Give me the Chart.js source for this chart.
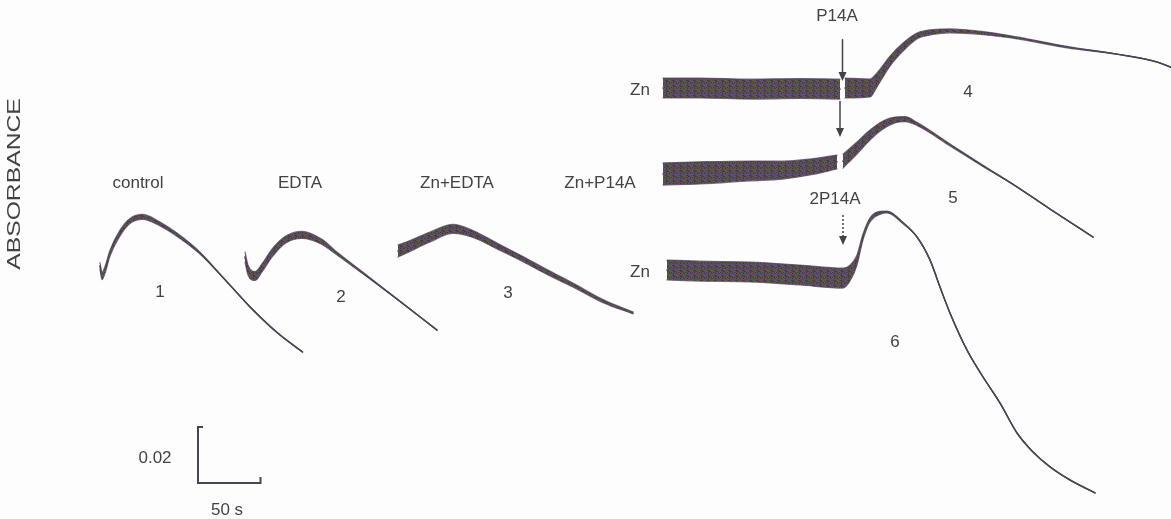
<!DOCTYPE html>
<html><head><meta charset="utf-8">
<script src="https://cdn.jsdelivr.net/npm/chart.js@4"></script>
<style>html,body{margin:0;padding:0;background:#fdfdfd;}#wrap{width:1171px;height:519px;position:relative;}</style>
</head><body><div id="wrap"><canvas id="c" width="1171" height="519"></canvas></div>
<script>
// ---- data: time (s) from start of each record, absorbance change, noise envelope (full width) ----
const trace1Time = [0,1.6,4,8,16,24,34,48,64,80,98,120,142,162];
const trace1Abs = [0,-0.0036,-0.0014,0.0046,0.0118,0.0161,0.0175,0.0150,0.0104,0.0046,-0.0039,-0.0146,-0.0239,-0.0307];
const trace1Noise = [0.0025,0.0025,0.0025,0.0021,0.0021,0.0018,0.0018,0.0014,0.0011,0.0007,0,0,0,0];

const trace2Time = [0,2.4,8,13.6,21.6,32,45.6,61.6,72,98.4,125.6,153.6];
const trace2Abs = [0,-0.0046,-0.0068,-0.0039,0.0014,0.0061,0.0079,0.0054,0.0018,-0.0071,-0.0164,-0.0261];
const trace2Noise = [0.0036,0.0036,0.0032,0.0029,0.0029,0.0025,0.0025,0.0018,0.0011,0.0005,0,0];

const trace3Time = [0,9.6,25.6,44,60,79.2,100,119.2,143.2,164,188];
const trace3Abs = [0,0.0018,0.0050,0.0079,0.0061,0.0018,-0.0029,-0.0075,-0.0129,-0.0179,-0.0221];
const trace3Noise = [0.0043,0.0039,0.0036,0.0032,0.0025,0.0021,0.0018,0.0018,0.0014,0.0011,0.0007];

const trace4Time = [0,29.6,69.6,109.6,141.6,145.6,165.6,171.2,181.6,192,203.2,216,229.6,256,283.2,323.2,363.2,395.2,409.6];
const trace4Abs = [0,0,-0.0004,-0.0002,-0.0004,0,0,0.0029,0.0096,0.0146,0.0186,0.0200,0.0204,0.0196,0.0179,0.0146,0.0121,0.0093,0.0068];
const trace4Noise = [0.0071,0.0071,0.0071,0.0071,0.0071,0.0071,0.0064,0.0050,0.0036,0.0029,0.0021,0.0018,0.0014,0.0011,0.0007,0.0005,0,0,0];

const trace5Time = [0,29.6,69.6,96,117.6,139.2,144,155.2,165.6,176,185.6,193.6,203.2,229.6,256,283.2,309.6,344];
const trace5Abs = [0,0.0004,0.0011,0.0014,0.0025,0.0043,0.0046,0.0093,0.0139,0.0175,0.0193,0.0196,0.0179,0.0104,0.0029,-0.0046,-0.0125,-0.0225];
const trace5Noise = [0.0079,0.0079,0.0071,0.0064,0.0057,0.0050,0.0050,0.0043,0.0036,0.0029,0.0021,0.0018,0.0011,0.0007,0.0005,0,0,0];

const trace6Time = [0,26.4,66.4,106.4,140.8,146.4,152,156.8,162.4,170.4,176,188.8,200,210.4,218.4,226.4,240,252.8,266.4,280,292.8,306.4,322.4,342.4];
const trace6Abs = [0,-0.0004,-0.0007,-0.0018,-0.0029,-0.0011,0.0036,0.0118,0.0179,0.0204,0.0207,0.0168,0.0118,0.0036,-0.0061,-0.0154,-0.0286,-0.0382,-0.0475,-0.0582,-0.0650,-0.0703,-0.0750,-0.0796];
const trace6Noise = [0.0071,0.0071,0.0071,0.0071,0.0071,0.0057,0.0036,0.0021,0.0014,0.0011,0.0007,0.0005,0,0,0,0,0,0,0,0,0,0,0,0];

// injection times (s) where the record is interrupted (null = continuous)
const injectionTime = [null,null,null,143.6,141.6,null];
const arrowTime = [143.6,141.6,140.8];
const traceNumbers = ['1','2','3','4','5','6'];
const conditionLabels = ['control','EDTA','Zn+EDTA','Zn+P14A','Zn','Zn'];
const additionLabels = ['P14A','2P14A'];
const scaleBarAbs = 0.02, scaleBarTime = 50;

// ---- layout (placement of each record on the page, axis units) ----
const layout = {
  xMax: 936.8, yMax: 519/2800,
  origins: [[80,0.09036],[196,0.09357],[318.4,0.09571],[530.4,0.15393],[530.4,0.12321],[533.6,0.08893]],
  scaleBarOrigin: [158.4, 0.01286]
};
const traces = [
  [trace1Time,trace1Abs,trace1Noise],[trace2Time,trace2Abs,trace2Noise],[trace3Time,trace3Abs,trace3Noise],
  [trace4Time,trace4Abs,trace4Noise],[trace5Time,trace5Abs,trace5Noise],[trace6Time,trace6Abs,trace6Noise]
];

// noisy band texture (fixed pattern)
function makePattern(){
  const p=document.createElement('canvas');p.width=7;p.height=5;
  const g=p.getContext('2d');
  const cols=['#4d3b5e','#44603f','#6e4d40','#3b3846','#5e4a6c','#56644a','#5c4244'];
  for(let i=0;i<7;i++)for(let j=0;j<5;j++){g.fillStyle=cols[(i*3+j*j*2+i*j)%7];g.fillRect(i,j,1,1);}
  return g.createPattern(p,'repeat');
}
const pat = makePattern();
const lineCol = '#3d3843';

const datasets=[];
traces.forEach((tr,k)=>{
  const [T,A,N]=tr; const [ox,oy]=layout.origins[k];
  const inj=injectionTime[k];
  const parts = inj==null ? [T.map((_,i)=>i)] :
    [T.map((t,i)=>t<inj?i:-1).filter(i=>i>=0), T.map((t,i)=>t>inj?i:-1).filter(i=>i>=0)];
  parts.forEach(idx=>{
    const common={pointRadius:0,cubicInterpolationMode:'monotone',borderJoinStyle:'round',borderCapStyle:'round'};
    datasets.push(Object.assign({data:idx.map(i=>({x:ox+T[i],y:oy+A[i]+N[i]/2})),borderColor:'rgba(80,68,88,0.75)',borderWidth:1.2,fill:'+1',backgroundColor:pat},common));
    datasets.push(Object.assign({data:idx.map(i=>({x:ox+T[i],y:oy+A[i]-N[i]/2})),borderColor:'rgba(80,68,88,0.75)',borderWidth:1.2,fill:false},common));
    datasets.push(Object.assign({data:idx.map(i=>({x:ox+T[i],y:oy+A[i]})),borderColor:lineCol,borderWidth:1.5,fill:false},common));
  });
});

const FONT='"Liberation Sans", Arial, sans-serif';
const texts=[
  {t:conditionLabels[0],x:138,y:183},{t:conditionLabels[1],x:300,y:183},{t:conditionLabels[2],x:457,y:183},
  {t:conditionLabels[3],x:600,y:183},{t:conditionLabels[4],x:640,y:90},{t:conditionLabels[5],x:640,y:272},
  {t:additionLabels[0],x:837,y:16},{t:additionLabels[1],x:835,y:199},
  {t:traceNumbers[0],x:160,y:292},{t:traceNumbers[1],x:341,y:297},{t:traceNumbers[2],x:508,y:293},
  {t:traceNumbers[3],x:968,y:92},{t:traceNumbers[4],x:953,y:198},{t:traceNumbers[5],x:895,y:342},
  {t:'0.02',x:155,y:458},{t:'50 s',x:227,y:510}
];
const arrows=[{trace:3,top:-50,tip:-8,dotted:false},{trace:4,top:-61,tip:-25,dotted:false},{trace:5,top:-60,tip:-30,dotted:true}];

const deco={id:'deco',afterDatasetsDraw(chart){
  const c=chart.ctx,xs=chart.scales.x,ys=chart.scales.y;
  c.save();
  c.fillStyle='#454247';c.strokeStyle='#454247';
  c.textAlign='center';c.textBaseline='middle';
  c.font='17px '+FONT;
  texts.forEach(o=>c.fillText(o.t,o.x,o.y));
  // y-axis title
  c.save();c.translate(15,184);c.rotate(-Math.PI/2);c.scale(1.3,1);c.font='19px '+FONT;c.fillText('ABSORBANCE',0,0);c.restore();
  // arrows at additions
  arrows.forEach((a,n)=>{
    const k=a.trace;const [ox,oy]=layout.origins[k];
    const tInj=arrowTime[n];
    const T=traces[k][0],A=traces[k][1];let i=0;while(i<T.length-1&&T[i+1]<tInj)i++;
    const x=xs.getPixelForValue(ox+tInj), yb=ys.getPixelForValue(oy+A[i]);
    const y0=yb+a.top,y1=yb+a.tip;
    c.lineWidth=1.5;
    if(a.dotted)c.setLineDash([2,2]);
    c.beginPath();c.moveTo(x,y0);c.lineTo(x,y1-6);c.stroke();c.setLineDash([]);
    c.beginPath();c.moveTo(x-4,y1-9);c.lineTo(x+4,y1-9);c.lineTo(x,y1);c.closePath();c.fill();
  });
  // scale bar
  const [sx,sy]=layout.scaleBarOrigin;
  const px0=xs.getPixelForValue(sx),py0=ys.getPixelForValue(sy);
  const px1=xs.getPixelForValue(sx+scaleBarTime),py1=ys.getPixelForValue(sy+scaleBarAbs);
  c.lineWidth=2;c.strokeStyle='#4a4550';
  c.beginPath();c.moveTo(px0+5,py1);c.lineTo(px0,py1);c.lineTo(px0,py0);c.lineTo(px1,py0);c.lineTo(px1,py0-6);c.stroke();
  c.restore();
}};

new Chart(document.getElementById('c'),{
  type:'line',
  data:{datasets},
  options:{
    responsive:false,animation:false,devicePixelRatio:1,
    layout:{padding:0},
    plugins:{legend:{display:false},tooltip:{enabled:false}},
    scales:{
      x:{type:'linear',min:0,max:layout.xMax,display:false},
      y:{type:'linear',min:0,max:layout.yMax,display:false}
    }
  },
  plugins:[deco]
});
</script></body></html>
